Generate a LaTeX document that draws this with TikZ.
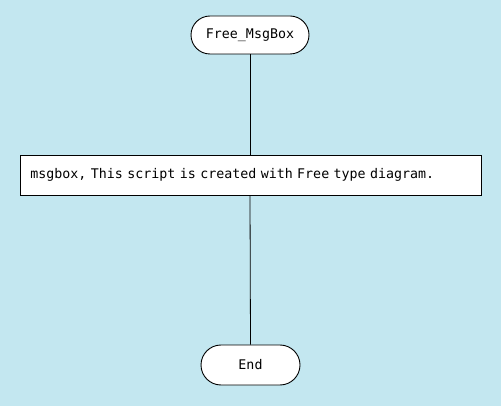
\documentclass[tikz,border=0pt]{standalone}
\usepackage{fontspec}
\setmonofont{DejaVu Sans Mono}
\usepackage{xcolor}
\usepackage{tikz}
\usetikzlibrary{shapes.misc,positioning}
\definecolor{bgcolor}{RGB}{195,231,240}
\definecolor{borderline}{RGB}{0,0,0}

\begin{document}
\begin{tikzpicture}[x=1pt,y=-1pt, every node/.style={font=\ttfamily\fontsize{13.3}{16}\selectfont}]
\tikzset{terminal/.style={draw=borderline,line width=0.9pt,rounded rectangle,fill=white,
  minimum height=38pt,inner sep=0pt},
  msgbox/.style={draw=borderline,line width=0.9pt,rectangle,fill=white,anchor=west,
  minimum width=461pt,minimum height=40pt,inner sep=10pt,text width=441pt,align=left}}

\fill[bgcolor] (0,0) rectangle (501,406);
\useasboundingbox (0,0) rectangle (501,406);

\node[terminal,minimum width=118pt] (start) at (250,35)  {Free\_MsgBox};
\node[msgbox]                       (msg)   at (20,175)  {\mbox{msgbox, This script is created with Free type diagram.}};
\node[terminal,minimum width=99pt,minimum height=40pt] (end) at (250.5,365) {End};

\draw[line width=0.8pt] (start.south)--(start.south|-msg.north);
\draw[line width=0.8pt] (start.south|-msg.south)--(end.north);
\end{tikzpicture}
\end{document}
